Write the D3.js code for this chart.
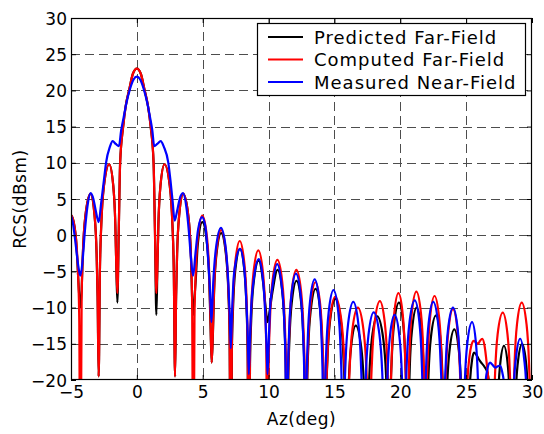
<!DOCTYPE html>
<html><head><meta charset="utf-8">
<script src="https://cdn.jsdelivr.net/npm/d3@7"></script>
<style>body{margin:0;background:#fff}text{font-family:"DejaVu Sans",sans-serif}</style>
</head><body><svg id="c" width="544" height="434"></svg>
<script>
const xTicks = [-5, 0, 5, 10, 15, 20, 25, 30];
const yTicks = [-20, -15, -10, -5, 0, 5, 10, 15, 20, 25, 30];
const seriesNames = ["Predicted Far-Field", "Computed Far-Field", "Measured Near-Field"];
const xLabel = "Az(deg)";
const yLabel = "RCS(dBsm)";

const computed = [
[-5.0,2.6],[-4.97,2.7],[-4.63,-0.3],[-4.46,-5.6],[-4.375,-11.5],[-4.29,-40],
[-4.19,-8.5],[-4.10,-2.6],[-3.905,2.7],[-3.52,5.7],[-3.21,2.7],[-3.055,-2.6],[-2.98,-8.5],[-2.9,-19.5],
[-2.8,-4.4],[-2.7,1.5],[-2.5,6.8],[-2.1,9.8],[-1.79,6.8],[-1.635,1.5],[-1.56,-4.4],[-1.48,-8],
[-1.37,1],[-1.27,10],[-1.04,15],[-0.85,17.8],[-0.57,20.2],[-0.3,22.3],[0,23],[0.3,22.3],[0.57,20.2],[0.85,17.8],[1.05,15],[1.27,10],[1.37,1],[1.48,-8],
[1.56,-4.4],[1.635,1.5],[1.79,6.8],[2.1,9.8],[2.5,6.8],[2.7,1.5],[2.8,-4.4],[2.9,-19.5],
[2.98,-8.5],[3.055,-2.6],[3.21,2.7],[3.52,5.7],[3.905,2.7],[4.10,-2.6],[4.19,-8.5],[4.29,-40],
[4.375,-11.5],[4.46,-5.6],[4.63,-0.3],[4.97,2.7],[5.325,-0.3],[5.50,-5.6],[5.59,-11.5],[5.68,-17.6],
[5.77,-13.5],[5.86,-7.6],[6.04,-2.3],[6.4,0.7],[6.765,-2.3],[6.95,-7.6],[7.04,-13.5],[7.13,-40],
[7.215,-15],[7.30,-9.1],[7.47,-3.8],[7.81,-0.8],[8.155,-3.8],[8.33,-9.1],[8.41,-15],[8.5,-40],
[8.59,-16.3],[8.68,-10.4],[8.86,-5.1],[9.22,-2.1],[9.57,-5.1],[9.745,-10.4],[9.83,-16.3],[9.92,-40],
[10.01,-17.6],[10.105,-11.7],[10.295,-6.4],[10.67,-3.4],[11.035,-6.4],[11.22,-11.7],[11.31,-17.6],[11.4,-40],
[11.49,-19],[11.58,-13.1],[11.755,-7.8],[12.11,-4.8],[12.47,-7.8],[12.65,-13.1],[12.74,-19],[12.83,-40],
[12.92,-20.7],[13.01,-14.8],[13.195,-9.5],[13.56,-6.5],[13.915,-9.5],[14.09,-14.8],[14.18,-20.7],[14.27,-40],
[14.37,-22.7],[14.47,-16.8],[14.665,-11.5],[15.06,-8.5],[15.505,-11.5],[15.73,-16.8],[15.84,-22.7],[15.95,-40],
[16.055,-24.2],[16.16,-18.3],[16.365,-13],[16.78,-10],[17.2,-13],[17.42,-18.3],[17.53,-24.2],[17.65,-40],
[17.75,-23.3],[17.85,-17.4],[18.05,-12.1],[18.45,-9.1],[18.825,-12.1],[19.01,-17.4],[19.1,-23.3],[19.2,-40],
[19.28,-22.2],[19.36,-16.3],[19.53,-11],[19.86,-8],[20.19,-11],[20.355,-16.3],[20.44,-22.2],[20.52,-40],
[20.61,-22],[20.7,-16.1],[20.87,-10.8],[21.22,-7.8],[21.57,-10.8],[21.745,-16.1],[21.83,-22],[21.92,-40],
[22.0,-22.6],[22.09,-16.7],[22.26,-11.4],[22.6,-8.4],[22.95,-11.4],[23.125,-16.7],[23.21,-22.6],[23.3,-40],
[23.39,-24.4],[23.475,-18.5],[23.65,-13.2],[24.0,-10.2],[24.35,-13.2],[24.525,-18.5],[24.61,-24.4],[24.7,-40],
[24.98,-26],[25.1,-20],[25.25,-16.8],[25.4,-15.2],[25.58,-14.6],[25.75,-14.8],[25.9,-15.0],[26.05,-14.6],[26.22,-14.3],[26.4,-15.3],[26.55,-17.5],[26.7,-20.5],[26.85,-28],[27.0,-40],
[27.1,-24.9],[27.2,-19],[27.39,-13.7],[27.78,-10.7],[28.14,-13.7],[28.32,-19],[28.41,-24.9],[28.5,-40],
[28.59,-23.5],[28.68,-17.6],[28.86,-12.3],[29.22,-9.3],[29.585,-12.3],[29.77,-17.6],[29.86,-23.5],[29.95,-40],[30,-30]
];

const predicted = [
[-5.0,2.6],[-4.97,2.7],[-4.63,-0.3],[-4.46,-5.6],[-4.38,-8.2],[-4.29,-10],
[-4.19,-7.5],[-4.10,-2.6],[-3.905,2.7],[-3.52,5.7],[-3.21,2.7],[-3.055,-2.6],[-2.98,-8.5],[-2.9,-19.5],
[-2.8,-4.4],[-2.7,1.5],[-2.5,6.8],[-2.1,9.8],[-1.79,6.8],[-1.635,1.5],[-1.56,-4.4],[-1.48,-9.3],
[-1.37,1],[-1.27,10],[-1.04,15],[-0.85,17.8],[-0.57,20.2],[-0.3,22.3],[0,23],[0.3,22.3],[0.57,20.2],[0.85,17.8],[1.05,15],[1.27,10],[1.37,1],[1.48,-11],
[1.56,-4.4],[1.635,1.5],[1.79,6.8],[2.1,9.8],[2.5,6.8],[2.7,1.5],[2.8,-4.4],[2.9,-19.5],
[2.98,-8.5],[3.055,-2.6],[3.21,2.7],[3.52,5.7],[3.905,2.7],[4.10,-2.6],[4.19,-8.5],[4.29,-11],
[4.38,-8.5],[4.46,-6.5],[4.63,-1.2],[4.97,1.8],[5.325,-1.2],[5.50,-6.5],[5.59,-12.4],[5.68,-17.6],
[5.77,-13.9],[5.86,-8.0],[6.04,-2.7],[6.4,0.3],[6.765,-2.7],[6.95,-8.0],[7.04,-13.9],[7.13,-40],
[7.215,-16.1],[7.30,-10.2],[7.47,-4.9],[7.83,-1.9],[8.165,-4.9],[8.33,-10.2],[8.41,-16.1],[8.5,-40],
[8.59,-17.7],[8.68,-11.8],[8.87,-6.5],[9.25,-3.5],[9.585,-6.5],[9.78,-10.0],[9.92,-12],
[10.08,-10.5],[10.3,-7.8],[10.68,-4.8],[11.04,-7.8],[11.22,-13.1],[11.31,-19],[11.4,-40],
[11.49,-20.5],[11.58,-14.6],[11.76,-9.3],[12.12,-6.3],[12.475,-9.3],[12.65,-14.6],[12.74,-20.5],[12.83,-40],
[12.92,-21.6],[13.01,-15.7],[13.2,-10.4],[13.57,-7.4],[13.92,-10.4],[14.09,-15.7],[14.18,-21.6],[14.27,-40],
[14.37,-23],[14.47,-17.1],[14.67,-11.8],[15.07,-8.8],[15.485,-11.8],[15.69,-17.1],[15.8,-23],[15.9,-40],
[15.99,-26.7],[16.08,-20.8],[16.26,-15.5],[16.62,-12.5],[17.035,-15.5],[17.24,-20.8],[17.35,-26.7],[17.45,-40],
[17.55,-25.4],[17.65,-19.5],[17.85,-14.2],[18.25,-11.2],[18.7,-14.2],[18.925,-19.5],[19.04,-25.4],[19.15,-40],
[19.24,-23.5],[19.34,-17.6],[19.525,-12.3],[19.9,-9.3],[20.225,-12.3],[20.39,-17.6],[20.47,-23.5],[20.55,-40],
[20.64,-24.2],[20.72,-18.3],[20.895,-13],[21.24,-10],[21.595,-13],[21.77,-18.3],[21.86,-24.2],[21.95,-40],
[22.04,-25.3],[22.14,-19.4],[22.325,-14.1],[22.7,-11.1],[23.035,-14.1],[23.2,-19.4],[23.29,-25.3],[23.37,-40],
[23.46,-27.2],[23.55,-21.3],[23.735,-16],[24.1,-13],[24.45,-16],[24.625,-21.3],[24.71,-27.2],[24.8,-40],
[25.15,-26],[25.3,-20],[25.45,-17.2],[25.6,-16.2],[25.8,-16.6],[25.95,-17.1],[26.1,-17.5],[26.4,-18.2],[26.62,-19],[26.78,-21.5],[26.9,-40],
[27.35,-29.5],[27.41,-23.6],[27.56,-18.3],[27.87,-15.3],[28.18,-18.3],[28.33,-23.6],[28.43,-29.5],[28.55,-40],
[28.66,-29.2],[28.74,-23.3],[28.9,-18],[29.25,-15],[29.57,-18],[29.7,-23.3],[29.77,-29.2],[29.85,-40],[30,-32]
];

const measured = [
[-5.0,2.7],[-4.85,1.6],[-4.65,-1.2],[-4.45,-4.2],[-4.29,-5.6],[-4.12,-3.5],[-3.95,0.5],[-3.75,4.0],[-3.5,5.8],[-3.3,5.0],[-3.1,3.2],[-2.9,1.8],
[-2.7,4.6],[-2.5,7.6],[-2.34,10.0],[-2.05,12.2],[-1.84,13.0],[-1.6,12.6],[-1.36,12.3],[-1.19,14.5],[-1.0,16.3],[-0.8,18.2],[-0.52,20.2],[-0.25,21.5],[0,21.9],
[0.25,21.5],[0.52,20.2],[0.8,18.2],[1.0,16.3],[1.17,14.5],[1.32,12.3],[1.55,12.6],[1.81,13.0],[2.05,12.2],[2.39,10.0],[2.55,7.6],[2.72,4.6],[2.87,2.0],
[3.05,3.3],[3.25,5.0],[3.5,5.8],[3.75,4.0],[3.95,0.5],[4.1,-3.0],[4.27,-5.6],[4.45,-2.5],[4.65,0.8],[4.95,2.5],[5.2,1.2],[5.4,-3],[5.55,-7.5],[5.66,-12.0],
[5.8,-6.5],[5.98,-2.2],[6.38,1.0],[6.75,-1.8],[6.95,-6.8],[7.05,-11],[7.13,-15.6],[7.22,-11],[7.33,-6.5],[7.5,-3.8],[7.83,-1.9],[8.15,-4.5],[8.32,-9.5],[8.42,-14],[8.5,-19.2],
[8.58,-14.5],[8.68,-10],[8.88,-6.0],[9.25,-3.3],[9.58,-6.2],[9.75,-11],[9.84,-15],[9.92,-19.2],[10.0,-15.5],[10.1,-10.5],[10.3,-7.0],[10.65,-4.0],[11.0,-7.0],[11.2,-12.3],[11.29,-18.2],[11.38,-40],
[11.47,-19.5],[11.555,-13.6],[11.73,-8.3],[12.08,-5.3],[12.44,-8.3],[12.62,-13.6],[12.71,-19.5],[12.8,-40],
[12.89,-20.3],[12.975,-14.4],[13.15,-9.1],[13.5,-6.1],[13.85,-9.1],[14.025,-14.4],[14.11,-20.3],[14.2,-40],
[14.29,-21.8],[14.38,-15.9],[14.565,-10.6],[14.93,-7.6],[15.29,-10.6],[15.47,-15.9],[15.56,-21.8],[15.65,-40],
[15.75,-23.4],[15.845,-17.5],[16.04,-12.2],[16.43,-9.2],[16.815,-12.2],[17.01,-17.5],[17.1,-23.4],[17.2,-40],
[17.3,-24.9],[17.395,-19],[17.59,-13.7],[17.98,-10.65],[18.415,-13.7],[18.63,-19],[18.74,-24.9],[18.85,-40],
[18.94,-25.2],[19.03,-19.3],[19.21,-14],[19.57,-11],[19.935,-14],[20.12,-19.3],[20.21,-25.2],[20.3,-40],
[20.4,-23.2],[20.5,-17.3],[20.7,-12],[21.1,-9],[21.45,-12],[21.625,-17.3],[21.71,-23.2],[21.8,-40],
[21.89,-23.4],[21.975,-17.5],[22.15,-12.2],[22.5,-9.2],[22.875,-12.2],[23.06,-17.5],[23.16,-23.4],[23.25,-40],
[23.34,-24.2],[23.44,-18.3],[23.625,-13],[24.0,-10],[24.36,-13],[24.54,-18.3],[24.63,-24.2],[24.72,-40],
[24.81,-26.2],[24.9,-20.3],[25.085,-15],[25.45,-12],[25.75,-15],[25.9,-20.3],[25.98,-26.2],[26.05,-40],
[26.3,-28],[26.45,-21],[26.6,-18.6],[26.82,-17.6],[27.0,-17.9],[27.22,-18.3],[27.4,-18.1],[27.57,-18.0],[27.75,-19.0],[27.9,-21],[28.05,-30],[28.2,-40],
[28.5,-28],[28.6,-21.5],[28.78,-17],[29.1,-14.3],[29.4,-17],[29.58,-21.5],[29.68,-28],[29.78,-40],[30,-30]
];

const seriesData = [predicted, computed, measured];
const seriesColors = ["#000000", "#ff0000", "#0000ff"];

const svg = d3.select("#c");
const L = 71, R = 532, T = 18, B = 380;
const x = d3.scaleLinear().domain([-5, 30]).range([L, R]);
const y = d3.scaleLinear().domain([-20, 30]).range([B, T]);

svg.append("rect").attr("x",0).attr("y",0).attr("width",544).attr("height",434).attr("fill","#fff");

// grid
const grid = svg.append("g").attr("stroke","#4d4d4d").attr("stroke-width",1).attr("stroke-dasharray","9,5").attr("fill","none");
grid.selectAll("line.gx").data(xTicks.slice(1,-1)).join("line")
  .attr("x1",d=>Math.round(x(d))+0.5).attr("x2",d=>Math.round(x(d))+0.5).attr("y1",T).attr("y2",B);
grid.selectAll("line.gy").data(yTicks.slice(1,-1)).join("line")
  .attr("y1",d=>Math.round(y(d))+0.5).attr("y2",d=>Math.round(y(d))+0.5).attr("x1",L).attr("x2",R);

// clip
svg.append("clipPath").attr("id","clip").append("rect").attr("x",L).attr("y",T).attr("width",R-L).attr("height",B-T);

const line = d3.line().x(d=>x(d[0])).y(d=>y(d[1])).curve(d3.curveMonotoneX);
const lines = svg.append("g").attr("clip-path","url(#clip)");
seriesData.forEach((s,i)=>{
  lines.append("path").datum(s).attr("d",line).attr("fill","none")
    .attr("stroke",seriesColors[i]).attr("stroke-width",2.2).attr("stroke-linejoin","round");
});

// axes
const fs = 17;
const ax = svg.append("g").attr("transform",`translate(0,${B})`)
  .call(d3.axisBottom(x).tickValues(xTicks).tickSizeInner(-5).tickSizeOuter(0).tickPadding(6));
const ay = svg.append("g").attr("transform",`translate(${L},0)`)
  .call(d3.axisLeft(y).tickValues(yTicks).tickSizeInner(-5).tickSizeOuter(0).tickPadding(4));
const axT = svg.append("g").attr("transform",`translate(0,${T})`)
  .call(d3.axisTop(x).tickValues(xTicks).tickSizeInner(-5).tickSizeOuter(0).tickFormat(""));
const ayR = svg.append("g").attr("transform",`translate(${R},0)`)
  .call(d3.axisRight(y).tickValues(yTicks).tickSizeInner(-5).tickSizeOuter(0).tickFormat(""));
[ax,ay,axT,ayR].forEach(g=>{
  g.select(".domain").remove();
  g.selectAll("line").attr("stroke","#000");
  g.selectAll("text").attr("font-size",fs).attr("fill","#000").style("font-family","'DejaVu Sans',sans-serif");
});
ay.selectAll("text").attr("dy","0.36em");

svg.append("rect").attr("x",L+0.5).attr("y",T+0.5).attr("width",R-L-1).attr("height",B-T-1)
  .attr("fill","none").attr("stroke","#000").attr("stroke-width",1.2);

// axis labels
svg.append("text").attr("x",(L+R)/2).attr("y",425).attr("text-anchor","middle").attr("font-size",fs).attr("letter-spacing",0.5).text(xLabel);
svg.append("text").attr("transform",`translate(26,${(T+B)/2}) rotate(-90)`).attr("text-anchor","middle").attr("font-size",fs).attr("letter-spacing",0.5).text(yLabel);

// legend
const lg = svg.append("g");
lg.append("rect").attr("x",257.5).attr("y",23.5).attr("width",268).attr("height",72).attr("fill","#fff").attr("stroke","#000").attr("stroke-width",1.2);
seriesNames.forEach((n,i)=>{
  const yy = 37 + i*22.5;
  lg.append("line").attr("x1",268).attr("x2",303).attr("y1",yy).attr("y2",yy).attr("stroke",seriesColors[i]).attr("stroke-width",2);
  lg.append("text").attr("x",314).attr("y",yy+6.5).attr("font-size",18).attr("letter-spacing",1).text(n);
});
</script></body></html>
